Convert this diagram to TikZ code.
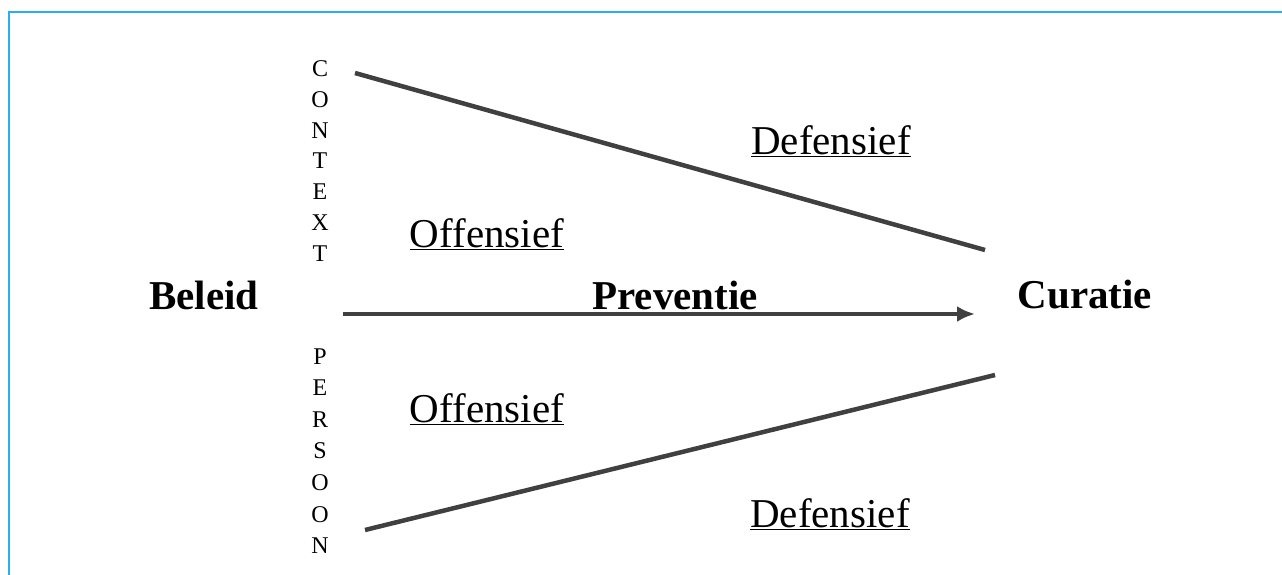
\documentclass[tikz,border=0pt]{standalone}
\usepackage{fontspec}
\setmainfont{Liberation Serif}
\usetikzlibrary{arrows.meta}

\begin{document}
\begin{tikzpicture}[
  x=1pt, y=-1pt,
  >=Latex,
  label/.style={font=\fontsize{41}{44}\selectfont, inner sep=0pt},
  pole/.style={font=\fontsize{41}{44}\selectfont\bfseries, inner sep=0pt},
  letters/.style={align=center, inner sep=0pt},
  bar/.style={line width=4.5pt, draw=black!75},
  arrow/.style={bar, -{Latex[length=18pt,width=16pt]}}
]
\useasboundingbox (0,0) rectangle (1282,575);
% Frame
\draw[line width=2.5pt, draw={rgb,255:red,40;green,175;blue,240}] (1300,12) -- (9,12) -- (9,600);
% Poles
\node[pole] (beleid) at (204,295) {Beleid};
\node[pole] (curatie) at (1085,295) {Curatie};
\node[pole] (preventie) at (675,295) {Preventie};
% Vertical words
\node[letters, font=\fontsize{24}{30.7}\selectfont] (context) at (320,161) {C\\O\\N\\T\\E\\X\\T};
\node[letters, font=\fontsize{24}{31.6}\selectfont] (persoon) at (320,451) {P\\E\\R\\S\\O\\O\\N};
% Labels
\node[label] (defboven) at (831,141) {\underline{Defensief}};
\node[label] (offboven) at (487,234) {\underline{Offensief}};
\node[label] (offonder) at (487,409) {\underline{Offensief}};
\node[label] (defonder) at (830,514) {\underline{Defensief}};
% Lines
\coordinate (ctxstart) at (355,73);
\coordinate (ctxend) at (985,250);
\coordinate (perstart) at (365,530);
\coordinate (perend) at (995,375);
\coordinate (arrstart) at (343,314);
\coordinate (arrend) at (975,314);
\draw[bar] (ctxstart) -- (ctxend);
\draw[bar] (perstart) -- (perend);
\draw[arrow] (arrstart) -- (arrend);
\end{tikzpicture}
\end{document}
